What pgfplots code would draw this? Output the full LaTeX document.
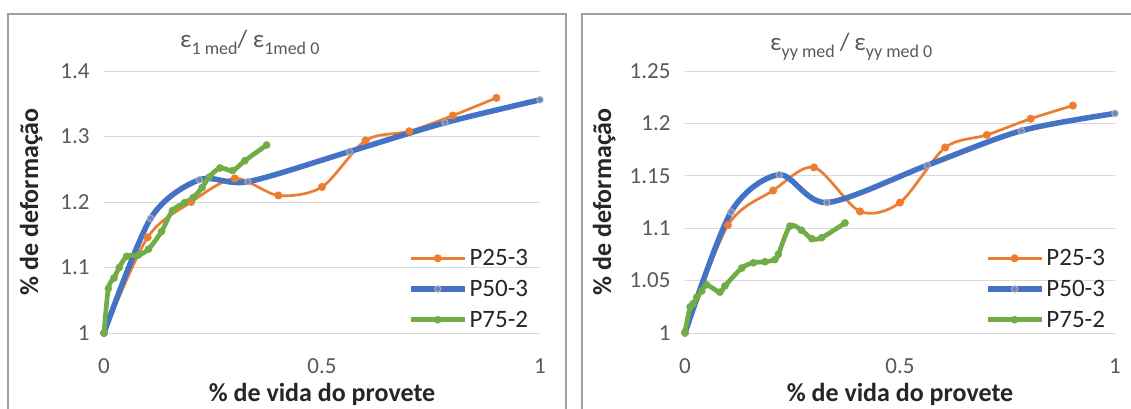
\documentclass[border=0pt]{standalone}
\usepackage{fontspec}
\setmainfont{Carlito}
\usepackage{pgfplots}
\pgfplotsset{compat=1.18}
\definecolor{cOr}{HTML}{ED7D31}
\definecolor{cBl}{HTML}{4472C4}
\definecolor{cGr}{HTML}{70AD47}
\definecolor{cTick}{HTML}{595959}
\definecolor{cLab}{HTML}{262626}
\definecolor{cGrid}{HTML}{D9D9D9}
\definecolor{cFrame}{HTML}{A0A0A0}
\definecolor{cBlMark}{HTML}{6F86B5}
\definecolor{cBlEdge}{HTML}{A7AFBF}
\newcommand{\fs}[1]{\fontsize{#1}{#1}\selectfont}
\pgfplotsset{
  chart/.style={
    scale only axis, height=262pt, anchor=south west,
    xmin=0, xmax=1, xtick={0,0.5,1},
    axis line style={draw=none}, major tick style={draw=none},
    ymajorgrids, grid style={cGrid, line width=1pt},
    clip=false,
    /pgf/number format/assume math mode=true,
    ticklabel style={font=\fs{23}, text=cTick},
    xticklabel style={anchor=base, yshift=-40pt},
    yticklabel style={anchor=east, xshift=-11pt},
    xlabel={\% de vida do provete}, ylabel={\% de deformação},
    xlabel style={at={(axis description cs:0.5,0)}, anchor=base, yshift=-68pt, font=\fs{26}\bfseries, text=cLab},
    ylabel style={at={(axis description cs:0,0.5)}, anchor=base, font=\fs{26}\bfseries, text=cLab},
    legend style={draw=none, fill=none, font=\fs{25}, text=cLab, row sep=9pt,
      at={(axis description cs:0.69,0.335)}, anchor=north west},
    legend cell align=left,
    legend image code/.code={\draw[mark repeat=2,mark phase=2,##1] plot coordinates {(0pt,0pt) (27pt,0pt) (54pt,0pt)};},
  },
  sOr/.style={color=cOr, line width=2.7pt, smooth, tension=0.5, mark=*, mark size=3.8pt, mark options={solid, fill=cOr, draw=cOr, line width=0.4pt}},
  sBl/.style={color=cBl, line width=5.5pt, smooth, tension=0.5, mark=*, mark size=3.2pt, mark options={solid, fill=cBlMark, draw=cBlEdge, line width=1pt}},
  sGr/.style={color=cGr, line width=4.7pt, smooth, tension=0.5, mark=*, mark size=3.6pt, mark options={solid, fill=cGr, draw=cGr, line width=0.4pt}},
}
\begin{document}
\begin{tikzpicture}[x=1pt,y=1pt]
\useasboundingbox (0,0) rectangle (1131,408);
\fill[white] (0,0) rectangle (1131,408);
\draw[cFrame, line width=1.3pt] (8,-10) rectangle (566,394);
\draw[cFrame, line width=1.3pt] (582,-10) rectangle (1150,394);
\begin{axis}[chart, at={(104pt,75pt)}, width=436pt,
  ymin=1, ymax=1.4, ytick={1,1.1,1.2,1.3,1.4},
  ylabel style={yshift=66pt}]
\addplot[sOr] coordinates {(0,1) (0.1,1.146) (0.2,1.200) (0.3,1.236) (0.4,1.210) (0.5,1.223) (0.6,1.294) (0.7,1.308) (0.8,1.332) (0.9,1.359)};
\addlegendentry{P25-3}
\addplot[sBl] coordinates {(0,1) (0.107,1.175) (0.219,1.234) (0.330,1.231) (0.563,1.277) (0.782,1.321) (1.0,1.356)};
\addlegendentry{P50-3}
\addplot[sGr] coordinates {(0,1) (0.010,1.068) (0.023,1.084) (0.035,1.100) (0.052,1.117) (0.079,1.119) (0.102,1.128) (0.132,1.155) (0.157,1.187) (0.185,1.199) (0.205,1.207) (0.225,1.222) (0.241,1.238) (0.266,1.252) (0.295,1.248) (0.323,1.263) (0.373,1.287)};
\addlegendentry{P75-2}
\end{axis}
\begin{axis}[chart, at={(685pt,75pt)}, width=430pt,
  ymin=1, ymax=1.25, ytick={1,1.05,1.1,1.15,1.2,1.25},
  ylabel style={yshift=74pt}]
\addplot[sOr] coordinates {(0,1) (0.1,1.103) (0.205,1.136) (0.3,1.158) (0.407,1.116) (0.5,1.1245) (0.605,1.177) (0.702,1.189) (0.804,1.2045) (0.902,1.217)};
\addlegendentry{P25-3}
\addplot[sBl] coordinates {(0,1) (0.107,1.1155) (0.219,1.151) (0.330,1.1245) (0.563,1.160) (0.782,1.193) (1.0,1.2095)};
\addlegendentry{P50-3}
\addplot[sGr] coordinates {(0,1.001) (0.012,1.025) (0.019,1.028) (0.027,1.034) (0.039,1.040) (0.050,1.046) (0.081,1.039) (0.093,1.045) (0.132,1.062) (0.159,1.067) (0.186,1.068) (0.209,1.070) (0.217,1.075) (0.244,1.102) (0.271,1.098) (0.295,1.090) (0.318,1.091) (0.372,1.105)};
\addlegendentry{P75-2}
\end{axis}
\node[anchor=base west, text=cTick, inner sep=0, font=\fs{25}] at (180,360)
  {ε\raisebox{-7pt}{\fs{18}1 med}/ ε\raisebox{-7pt}{\fs{18}1med 0}};
\node[anchor=base west, text=cTick, inner sep=0, font=\fs{25}] at (770,358)
  {ε\raisebox{-7pt}{\fs{18}yy med}\hspace{5pt}/\hspace{5pt}ε\raisebox{-7pt}{\fs{18}yy med 0}};
\end{tikzpicture}
\end{document}
